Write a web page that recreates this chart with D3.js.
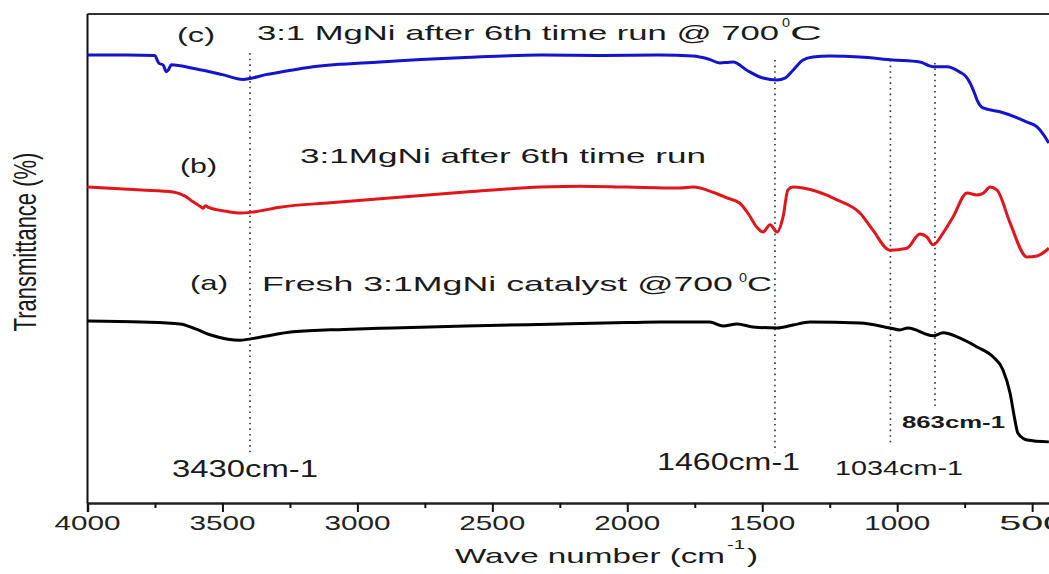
<!DOCTYPE html>
<html>
<head>
<meta charset="utf-8">
<script src="https://cdn.jsdelivr.net/npm/d3@7"></script>
<style>
  body { margin: 0; background: #fff; }
  svg { display: block; font-family: "Liberation Sans", Arial, sans-serif; }
</style>
</head>
<body>
<div id="chart"></div>
<script>
// FTIR spectra, [wave number (cm-1), transmittance (offset, arbitrary units)]
const runAt700 = [[4000,91.6],[3850,91.6],[3750,91.5],[3742,90.6],[3735,89.9],[3720,89.6],[3708,88.2],[3700,88.6],[3690,89.6],
  [3600,88.8],[3500,87.6],[3424,86.6],[3398,86.8],[3340,87.6],[3287,88.1],[3164,89.2],[2916,90.2],[2600,91.1],[2323,91.6],
  [2100,91.5],[1879,91.6],[1757,91.4],[1700,90.8],[1657,90.0],[1630,90.1],[1608,90.2],[1557,88.5],[1497,86.9],[1445,86.5],
  [1416,86.9],[1386,88.5],[1349,90.6],[1312,91.2],[1250,91.4],[1138,91.2],[1016,90.6],[916,90.2],[880,89.4],[867,89.2],
  [816,89.2],[767,88.1],[745,87.2],[730,85.9],[715,84.0],[704,82.4],[682,80.8],[619,80.0],[519,77.9],[482,76.9],[460,75.5],[438,73.6]];

const run6th = [[4000,64.6],[3800,64.0],[3683,63.6],[3640,62.8],[3609,61.6],[3580,60.6],[3572,60.3],[3562,60.8],[3554,60.5],
  [3480,59.6],[3435,59.3],[3387,59.5],[3287,60.5],[3100,61.4],[2916,62.2],[2600,63.6],[2323,64.6],[2175,64.8],[2000,64.6],
  [1805,64.4],[1757,64.6],[1680,63.5],[1631,62.4],[1583,61.3],[1550,59.0],[1520,56.4],[1497,55.4],[1471,56.9],[1445,55.4],
  [1423,58.5],[1405,64.0],[1386,64.6],[1349,64.4],[1223,62.0],[1138,59.3],[1090,55.8],[1027,51.7],[964,52.1],[916,55.0],
  [890,54.4],[867,52.8],[830,55.2],[793,58.5],[741,63.4],[704,63.0],[680,63.4],[656,64.6],[630,64.0],[582,57.3],[519,50.3],
  [482,50.5],[438,52.1]];

const fresh = [[4000,37.2],[3800,37.0],[3657,36.6],[3600,35.6],[3546,34.4],[3480,33.5],[3435,33.3],[3361,33.9],[3239,35.0],
  [3050,35.5],[2868,35.8],[2600,36.2],[2249,36.6],[2000,36.9],[1879,37.0],[1694,37.0],[1645,36.2],[1594,36.6],[1534,36.0],
  [1445,35.8],[1386,36.4],[1323,37.0],[1138,36.8],[1027,35.8],[990,35.4],[960,35.8],[867,34.2],[830,34.8],[767,33.7],
  [704,31.9],[645,29.9],[608,27.2],[582,22.5],[564,17.0],[553,14.3],[530,13.1],[519,12.9],[438,12.5]];

const xTicks = [4000,3500,3000,2500,2000,1500,1000,500];
const xMinorTicks = [3750,3250,2750,2250,1750,1250,750];

// peak marker lines: where they sit on the axis, and the label printed for them
const peakWaves = [3398,1453,1025,860];
const peakLabels = ["3430cm-1","1460cm-1","1034cm-1","863cm-1"];

const width = 1049, height = 574;
const margin = {top: 14, left: 87.5, bottom: 503};

const svg = d3.select("#chart").append("svg")
  .attr("width", width).attr("height", height)
  .attr("viewBox", [0, 0, width, height]);

const x = d3.scaleLinear().domain([4000, 400]).range([margin.left, margin.left + 3600 * 0.2699]);
const y = d3.scaleLinear().domain([0, 100]).range([margin.bottom, margin.top]);

// image is stretched sideways, so text gets fixed lengths
function label(str, px, py, len, size, weight) {
  return svg.append("text")
    .attr("x", px).attr("y", py)
    .attr("font-size", size)
    .attr("font-weight", weight || "normal")
    .attr("fill", "#1a1a1a")
    .attr("textLength", len)
    .attr("lengthAdjust", "spacingAndGlyphs")
    .text(str);
}

// frame
svg.append("line").attr("x1", margin.left).attr("x2", width + 20)
  .attr("y1", margin.top).attr("y2", margin.top)
  .attr("stroke", "#333").attr("stroke-width", 2);
svg.append("line").attr("x1", margin.left).attr("x2", margin.left)
  .attr("y1", margin.top).attr("y2", margin.bottom)
  .attr("stroke", "#111").attr("stroke-width", 2);

// x axis
svg.append("g").attr("transform", `translate(0,${margin.bottom})`)
  .call(d3.axisBottom(x).tickValues(xTicks).tickSize(9).tickFormat(d3.format("d")))
  .call(g => g.select(".domain").attr("stroke", "#222").attr("stroke-width", 2.5))
  .call(g => g.selectAll(".tick line").attr("stroke", "#111").attr("stroke-width", 2))
  .call(g => g.selectAll(".tick text").remove());

svg.append("g").attr("transform", `translate(0,${margin.bottom})`)
  .call(d3.axisBottom(x).tickValues(xMinorTicks).tickSize(5).tickFormat(""))
  .call(g => g.select(".domain").remove())
  .call(g => g.selectAll(".tick line").attr("stroke", "#111").attr("stroke-width", 2));

xTicks.forEach(t => {
  label(String(t), x(t) - 33, 530, 66, 21).attr("fill", "#222");
});

// axis titles
label("Wave number (cm", 455, 563, 270, 21);
label("-1", 727, 549, 18, 13);
label(")", 747, 563, 11, 21);

svg.append("text")
  .attr("transform", "translate(36,242) scale(1.4,1) rotate(-90)")
  .attr("text-anchor", "middle")
  .attr("font-size", 22)
  .attr("fill", "#1a1a1a")
  .text("Transmittance (%)");

// dotted peak markers
const peakSpans = [[92.0,10.2],[90.6,10.4],[90.6,11.9],[90.0,19.0]];
svg.append("g").selectAll("line")
  .data(peakWaves)
  .join("line")
  .attr("x1", d => x(d)).attr("x2", d => x(d))
  .attr("y1", (d, i) => y(peakSpans[i][0]))
  .attr("y2", (d, i) => y(peakSpans[i][1]))
  .attr("stroke", "#333").attr("stroke-width", 1.6)
  .attr("stroke-dasharray", "1.6,4");

// spectra
const line = d3.line().x(d => x(d[0])).y(d => y(d[1])).curve(d3.curveMonotoneX);
const series = [
  {data: runAt700, color: "#1414cc"},
  {data: run6th, color: "#e0161c"},
  {data: fresh, color: "#000000"}
];
svg.append("g").selectAll("path")
  .data(series)
  .join("path")
  .attr("d", d => line(d.data))
  .attr("fill", "none")
  .attr("stroke", d => d.color)
  .attr("stroke-width", 3)
  .attr("stroke-linejoin", "round");

// curve labels
label("(c)", 177, 42, 38, 21);
label("3:1 MgNi after 6th time run @ 700", 257, 40, 522, 21);
label("0", 782, 27, 8, 13);
label("C", 790, 40, 32, 21);

label("(b)", 180, 173, 37, 21);
label("3:1MgNi after 6th time run", 300, 163, 406, 21);

label("(a)", 190, 290, 38, 21);
label("Fresh 3:1MgNi catalyst  @700", 262, 291, 471, 21);
label("0", 739, 282, 8, 13);
label("C", 747, 291, 25, 21);

// peak labels
label(peakLabels[0], 172, 477, 146, 23);
label(peakLabels[1], 657, 470, 143, 23);
label(peakLabels[2], 835, 475, 128, 21);
label(peakLabels[3], 902, 428, 103, 17, "bold");
</script>
</body>
</html>
